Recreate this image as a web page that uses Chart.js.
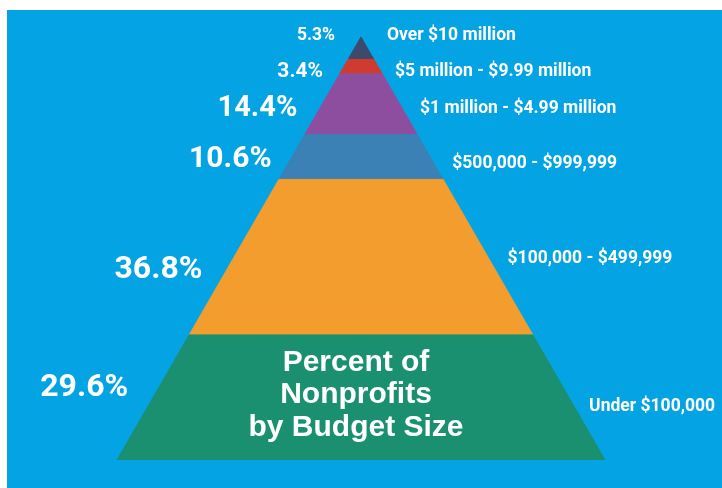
<!DOCTYPE html>
<html>
<head>
<meta charset="utf-8">
<script src="https://cdn.jsdelivr.net/npm/chart.js@4"></script>
<style>
  html, body { margin: 0; padding: 0; background: #ffffff; }
  #wrap { width: 722px; height: 488px; }
</style>
</head>
<body>
<div id="wrap"><canvas id="c" width="722" height="488"></canvas></div>
<script>
// ---- data (bottom tier first) ----
const tiers = ['Under $100,000', '$100,000 - $499,999', '$500,000 - $999,999',
               '$1 million - $4.99 million', '$5 million - $9.99 million', 'Over $10 million'];
const percents = [29.6, 36.8, 10.6, 14.4, 3.4, 5.3];
const pctLabels = ['29.6%', '36.8%', '10.6%', '14.4%', '3.4%', '5.3%'];
const titleLines = ['Percent of', 'Nonprofits', 'by Budget Size'];

// ---- styles / layout ----
const tierColors = ['#1a9070', '#f29d2e', '#3b81b6', '#8e4e9f', '#cf3b2e', '#3c4a6b'];
const bgBlue = '#04a3e4';
const pctFontSizes = [32, 32, 30, 29, 21, 17.5];
const pctDy = [-9, 13, 2, 5, 5, -13];
const catDy = [9, 1, 7, 4, 5, -13];
const pctGap = [30, 24, 19, 22, 18, 26];
const catGap = [15, 19, 18, 18, 14, 26];

const total = percents.reduce((a, b) => a + b, 0);
const halfW = lvl => 50 * (1 - lvl / total);

let cum = 0;
const datasets = percents.map((p, i) => {
  const b = cum, t = cum + p; cum = t;
  return {
    label: tiers[i],
    data: [
      { x: -halfW(b), y: b }, { x: halfW(b), y: b },
      { x: halfW(t), y: t }, { x: -halfW(t), y: t }, { x: -halfW(b), y: b }
    ],
    showLine: true,
    fill: 'shape',
    backgroundColor: tierColors[i],
    borderColor: tierColors[i],
    borderWidth: 1,
    pointRadius: 0,
    tension: 0,
    _mid: (b + t) / 2
  };
});

const bgPlugin = {
  id: 'bg',
  beforeDraw(chart) {
    const ctx = chart.ctx;
    ctx.save();
    ctx.fillStyle = '#ffffff';
    ctx.fillRect(0, 0, chart.width, chart.height);
    ctx.fillStyle = bgBlue;
    ctx.fillRect(7, 10, chart.width - 7, chart.height - 10);
    ctx.restore();
  }
};

const labelPlugin = {
  id: 'labels',
  afterDatasetsDraw(chart) {
    const ctx = chart.ctx;
    const xs = chart.scales.x, ys = chart.scales.y;
    const cx = xs.getPixelForValue(0);
    const pxPerX = xs.getPixelForValue(1) - cx;
    ctx.save();
    ctx.fillStyle = '#ffffff';
    ctx.textBaseline = 'middle';
    datasets.forEach((ds, i) => {
      const midY = ys.getPixelForValue(ds._mid);
      // percent label (left)
      const py = midY + pctDy[i];
      const pl = Math.max(0, Math.min(total, ys.getValueForPixel(py)));
      const pEdge = cx - halfW(pl) * pxPerX;
      ctx.font = 'bold ' + pctFontSizes[i] + 'px Roboto, "Open Sans", sans-serif';
      ctx.textAlign = 'right';
      ctx.fillText(pctLabels[i], pEdge - pctGap[i], py);
      // category label (right)
      const cy = midY + catDy[i];
      const cl = Math.max(0, Math.min(total, ys.getValueForPixel(cy)));
      const cEdge = cx + halfW(cl) * pxPerX;
      ctx.font = 'bold 17.5px Roboto, "Open Sans", sans-serif';
      ctx.textAlign = 'left';
      ctx.fillText(tiers[i], cEdge + catGap[i], cy);
    });
    // title inside the bottom tier
    ctx.font = 'bold 30px "Liberation Sans", Arial, sans-serif';
    ctx.textAlign = 'center';
    const greenMid = ys.getPixelForValue(datasets[0]._mid);
    titleLines.forEach((ln, k) => {
      ctx.fillText(ln, cx - 5, greenMid - 35 + k * 32.5);
    });
    ctx.restore();
  }
};

new Chart(document.getElementById('c'), {
  type: 'scatter',
  data: { datasets },
  options: {
    responsive: false,
    animation: false,
    events: [],
    layout: { padding: { left: 117, right: 117, top: 37, bottom: 28 } },
    plugins: { legend: { display: false }, tooltip: { enabled: false } },
    scales: {
      x: { type: 'linear', min: -50, max: 50, display: false },
      y: { type: 'linear', min: 0, max: total, display: false }
    }
  },
  plugins: [bgPlugin, labelPlugin]
});
</script>
</body>
</html>
